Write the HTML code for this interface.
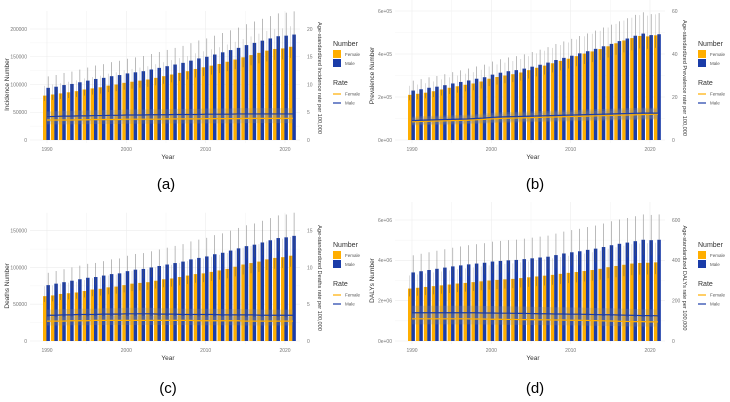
<!DOCTYPE html>
<html><head><meta charset="utf-8">
<style>
html,body{margin:0;padding:0;background:#fff;}
svg{display:block;font-family:"Liberation Sans",sans-serif;}
</style></head>
<body>
<svg id="fig" width="730" height="402" viewBox="0 0 730 402" xmlns="http://www.w3.org/2000/svg"></svg>
<script>
const years = [];
for (let y = 1990; y <= 2021; y++) years.push(y);
const xTickLabels = ["1990","2000","2010","2020"];

// (a) Incidence
const incFemale = [80,82,84,86,88,91,93,95,98,100,103,105,107,109,112,115,118,121,124,128,131,134,137,141,145,149,153,157,161,164,165,168].map(v=>v*1000);
const incMale = [94,96,99,101,104,107,110,112,115,117,120,122,124,127,130,133,136,139,143,147,150,154,158,162,166,171,175,179,183,187,188,190].map(v=>v*1000);
const incRateFemale = [3.6,3.6,3.6,3.6,3.65,3.65,3.7,3.7,3.7,3.7,3.75,3.75,3.75,3.75,3.75,3.8,3.8,3.8,3.8,3.8,3.85,3.85,3.85,3.85,3.85,3.9,3.9,3.9,3.9,3.9,3.9,3.9];
const incRateMale = [4.2,4.25,4.3,4.3,4.35,4.35,4.4,4.4,4.45,4.45,4.5,4.5,4.5,4.55,4.55,4.55,4.6,4.6,4.6,4.6,4.65,4.65,4.65,4.65,4.7,4.7,4.7,4.7,4.7,4.7,4.7,4.7];
const incTicks = [0,50000,100000,150000,200000];
const incTickLabels = ["0","50000","100000","150000","200000"];
const incRateTicks = ["0","5","10","15","20"];

// (b) Prevalence
const prevFemale = [2.1,2.15,2.2,2.27,2.35,2.43,2.5,2.57,2.63,2.72,2.85,2.93,3.0,3.06,3.14,3.25,3.36,3.46,3.57,3.68,3.78,3.9,4.02,4.12,4.23,4.36,4.5,4.63,4.74,4.84,4.82,4.87].map(v=>v*1e5);
const prevMale = [2.3,2.36,2.43,2.48,2.55,2.63,2.7,2.77,2.85,2.92,3.04,3.13,3.2,3.25,3.32,3.41,3.5,3.6,3.72,3.82,3.92,4.03,4.13,4.24,4.36,4.47,4.6,4.72,4.85,4.95,4.88,4.92].map(v=>v*1e5);
const prevRateFemale = [8.5,8.6,8.7,8.8,8.9,9.0,9.1,9.2,9.4,9.6,9.8,10.0,10.1,10.2,10.3,10.4,10.5,10.6,10.7,10.8,10.9,11.0,11.1,11.2,11.3,11.4,11.5,11.6,11.7,11.8,11.9,12.0];
const prevRateMale = [9.0,9.2,9.3,9.4,9.5,9.6,9.7,9.8,10.0,10.2,10.5,10.7,10.8,10.9,11.0,11.1,11.2,11.3,11.4,11.5,11.6,11.7,11.8,11.9,12.0,12.1,12.2,12.3,12.4,12.5,12.5,12.5];
const prevTicks = [0,2e5,4e5,6e5];
const prevTickLabels = ["0e+00","2e+05","4e+05","6e+05"];
const prevRateTicks = ["0","20","40","60"];

// (c) Deaths
const dthFemale = [61,62,64,65,66,68,70,71,73,74,76,78,79,80,82,84,85,87,89,91,92,94,96,98,101,104,106,108,111,113,114,116].map(v=>v*1000);
const dthMale = [76,78,80,82,84,86,87,89,91,92,95,97,98,100,102,104,106,108,111,113,115,118,120,123,126,129,131,134,137,140,141,143].map(v=>v*1000);
const dthRateFemale = [2.7,2.7,2.7,2.75,2.75,2.75,2.8,2.8,2.8,2.8,2.8,2.8,2.8,2.8,2.8,2.8,2.8,2.8,2.8,2.75,2.75,2.75,2.75,2.75,2.75,2.7,2.7,2.7,2.7,2.7,2.7,2.7];
const dthRateMale = [3.5,3.5,3.55,3.55,3.6,3.6,3.6,3.65,3.65,3.65,3.7,3.7,3.7,3.7,3.65,3.65,3.65,3.6,3.6,3.6,3.6,3.6,3.55,3.55,3.55,3.55,3.55,3.5,3.5,3.5,3.5,3.5];
const dthTicks = [0,50000,100000,150000];
const dthTickLabels = ["0","50000","100000","150000"];
const dthRateTicks = ["0","5","10","15"];

// (d) DALYs
const dalyFemale = [2.6,2.64,2.68,2.72,2.76,2.8,2.85,2.88,2.92,2.96,3.0,3.03,3.06,3.08,3.12,3.16,3.2,3.24,3.28,3.33,3.38,3.42,3.47,3.52,3.58,3.66,3.72,3.78,3.84,3.87,3.88,3.9].map(v=>v*1e6);
const dalyMale = [3.4,3.46,3.52,3.58,3.64,3.7,3.75,3.8,3.84,3.88,3.94,3.97,4.0,4.02,4.06,4.1,4.14,4.18,4.26,4.34,4.4,4.45,4.52,4.58,4.66,4.75,4.82,4.88,4.95,5.02,5.0,5.02].map(v=>v*1e6);
const dalyRateFemale = [110,110,110,110,110,110,110,110,109,109,108,108,107,107,106,106,105,105,104,104,103,103,102,101,100,99,98,97,96,96,95,95];
const dalyRateMale = [140,140,140,140,140,140,140,140,140,139,139,138,138,137,137,136,135,135,134,134,133,133,132,131,130,130,129,128,127,126,126,125];
const dalyTicks = [0,2e6,4e6,6e6];
const dalyTickLabels = ["0e+00","2e+06","4e+06","6e+06"];
const dalyRateTicks = ["0","200","400","600"];

// uncertainty factors (upper / lower relative to estimate)
const errUpper = [1.22, 1.2, 1.22, 1.25];
const errLower = [0.88, 0.88, 0.87, 0.85];
const rateBand = [0.22, 0.2, 0.22, 0.25];

const NS = "http://www.w3.org/2000/svg";
const fig = document.getElementById("fig");
function mk(tag, attrs, parent){ const e=document.createElementNS(NS,tag); for(const k in attrs) e.setAttribute(k,attrs[k]); (parent||fig).appendChild(e); return e; }

const FEM = "#FFAE00", MAL = "#1A3CA8";

function panel(p){
  const g = mk("g",{transform:`translate(${p.ox},${p.oy})`});
  
  
  const x0=47, pxy=(285-47)/30, yZero=p.yZero;
  const xS = y => x0 + (y-1990)*pxy;
  const yS = v => yZero - v/p.maxTick*(yZero-p.yTop);
  const rS = v => yZero - v/p.maxRate*(yZero-p.yTop);
  const tickStep = p.ticks[1]-p.ticks[0];
  for(let i=0;i<p.ticks.length;i++){
    const yy=yS(p.ticks[i]);
    const gl=mk("line",{x1:30,x2:300,y1:yy,y2:yy,stroke:"#ececec","stroke-width":0.6},g);
    
    
    const mid=yS(p.ticks[i]+tickStep/2);
    if(i<p.ticks.length-1) mk("line",{x1:30,x2:300,y1:mid,y2:mid,stroke:"#f5f5f5","stroke-width":0.5},g);
    const t=mk("text",{x:27,y:yy+1.8,"font-size":5,fill:"#777","text-anchor":"end"},g);
    t.textContent=p.tickLabels[i];
    
    
    const r=mk("text",{x:307,y:yy+1.8,"font-size":5,fill:"#777"},g);
    r.textContent=p.rateTicks[i];
    
    
  }
  [1990,1995,2000,2005,2010,2015,2020].forEach((yr,i)=>{
    mk("line",{x1:xS(yr),x2:xS(yr),y1:p.yTop-18,y2:yZero+3,stroke:i%2?"#f5f5f5":"#ececec","stroke-width":0.6},g);
  });
  xTickLabels.forEach(l=>{
    const t=mk("text",{x:xS(+l),y:yZero+11,"font-size":5,fill:"#777","text-anchor":"middle"},g);
    t.textContent=l;
    
    
  });
  years.forEach((yr,i)=>{
    const cx=xS(yr);
    [[p.f,FEM,cx-4],[p.m,MAL,cx-0.6]].forEach(([arr,col,bx],k)=>{
      const v=arr[i], top=yS(v);
      const b=mk("rect",{x:bx,y:top,width:3.5,height:yZero-top,fill:col},g);
      
      
      const ex=bx+1.75, hi=yS(v*p.eu), lo=yS(v*p.el);
      mk("line",{x1:ex,x2:ex,y1:top,y2:lo,stroke:"#555","stroke-width":0.5,opacity:0.8},g);
      mk("line",{x1:ex,x2:ex,y1:hi,y2:top,stroke:k?"#777":"#bbb","stroke-width":0.5},g);
    });
  });
  [[p.rf],[p.rm]].forEach(([arr])=>{
    let up="",dn="";
    arr.forEach((v,i)=>{ up+=`${xS(years[i])},${rS(v*(1+p.rb))} `; });
    for(let i=arr.length-1;i>=0;i--) dn+=`${xS(years[i])},${rS(arr[i]*(1-p.rb))} `;
    mk("polygon",{points:up+dn,fill:"#8a8a8a",opacity:0.25},g);
  });
  [[p.rf,FEM,'rate-line-female'],[p.rm,MAL,'rate-line-male']].forEach(([arr,col,nm])=>{
    const pts=arr.map((v,i)=>`${xS(years[i])},${rS(v)}`).join(" ");
    const l=mk("polyline",{points:pts,fill:"none",stroke:col,"stroke-width":1.2},g);
    
    
  });
  const yt=mk("text",{transform:`translate(9,${(yZero+p.yTop)/2}) rotate(-90)`,"font-size":6.5,fill:"#333","text-anchor":"middle"},g);
  yt.textContent=p.yTitle;
  
  
  const rt=mk("text",{transform:`translate(318,78) rotate(90)`,"font-size":5.6,fill:"#333","text-anchor":"middle"},g);
  rt.textContent=p.rTitle;
  
  
  const xt=mk("text",{x:168,y:yZero+19,"font-size":6.5,fill:"#333","text-anchor":"middle"},g);
  xt.textContent="Year";
  
  
  const lg=mk("g",{transform:`translate(333,${p.legY})`},g);
  
  
  const t1=mk("text",{x:0,y:0,"font-size":7,fill:"#333"},lg); t1.textContent="Number";
  mk("rect",{x:0,y:4,width:8,height:8,fill:FEM},lg);
  mk("rect",{x:0,y:13,width:8,height:8,fill:MAL},lg);
  const a=mk("text",{x:12,y:10,"font-size":4.5,fill:"#555"},lg); a.textContent="Female";
  const b=mk("text",{x:12,y:19,"font-size":4.5,fill:"#555"},lg); b.textContent="Male";
  const t2=mk("text",{x:0,y:39,"font-size":7,fill:"#333"},lg); t2.textContent="Rate";
  mk("line",{x1:0,x2:8,y1:48,y2:48,stroke:FEM,"stroke-width":1.2},lg);
  mk("line",{x1:0,x2:8,y1:57,y2:57,stroke:MAL,"stroke-width":1.2},lg);
  const c=mk("text",{x:12,y:49.5,"font-size":4.5,fill:"#555"},lg); c.textContent="Female";
  const d=mk("text",{x:12,y:58.5,"font-size":4.5,fill:"#555"},lg); d.textContent="Male";
  const cap=mk("text",{x:p.capX,y:p.capY,"font-size":15,fill:"#000","text-anchor":"middle"},g);
  cap.textContent=p.cap;
  
  
}

panel({name:"panel-a-incidence",ox:0,oy:0,yZero:140,yTop:29,maxTick:200000,maxRate:20,ticks:incTicks,tickLabels:incTickLabels,rateTicks:incRateTicks,
  f:incFemale,m:incMale,rf:incRateFemale,rm:incRateMale,eu:errUpper[0],el:errLower[0],rb:rateBand[0],legY:46,
  yTitle:"Incidence Number",rTitle:"Age-standardized Incidence rate per 100,000",cap:"(a)",capX:166,capY:189});
panel({name:"panel-b-prevalence",ox:365,oy:0,yZero:140,yTop:11,maxTick:6e5,maxRate:60,ticks:prevTicks,tickLabels:prevTickLabels,rateTicks:prevRateTicks,
  f:prevFemale,m:prevMale,rf:prevRateFemale,rm:prevRateMale,eu:errUpper[1],el:errLower[1],rb:rateBand[1],legY:46,
  yTitle:"Prevalence Number",rTitle:"Age-standardized Prevalence rate per 100,000",cap:"(b)",capX:170,capY:189});
panel({name:"panel-c-deaths",ox:0,oy:200,yZero:141,yTop:30.7,maxTick:150000,maxRate:15,ticks:dthTicks,tickLabels:dthTickLabels,rateTicks:dthRateTicks,
  f:dthFemale,m:dthMale,rf:dthRateFemale,rm:dthRateMale,eu:errUpper[2],el:errLower[2],rb:rateBand[2],legY:47,
  yTitle:"Deaths Number",rTitle:"Age-standardized Deaths rate per 100,000",cap:"(c)",capX:168,capY:193});
panel({name:"panel-d-dalys",ox:365,oy:200,yZero:141,yTop:20,maxTick:6e6,maxRate:600,ticks:dalyTicks,tickLabels:dalyTickLabels,rateTicks:dalyRateTicks,
  f:dalyFemale,m:dalyMale,rf:dalyRateFemale,rm:dalyRateMale,eu:errUpper[3],el:errLower[3],rb:rateBand[3],legY:47,
  yTitle:"DALYs Number",rTitle:"Age-standardized DALYs rate per 100,000",cap:"(d)",capX:170,capY:193});
</script>
</body></html>
